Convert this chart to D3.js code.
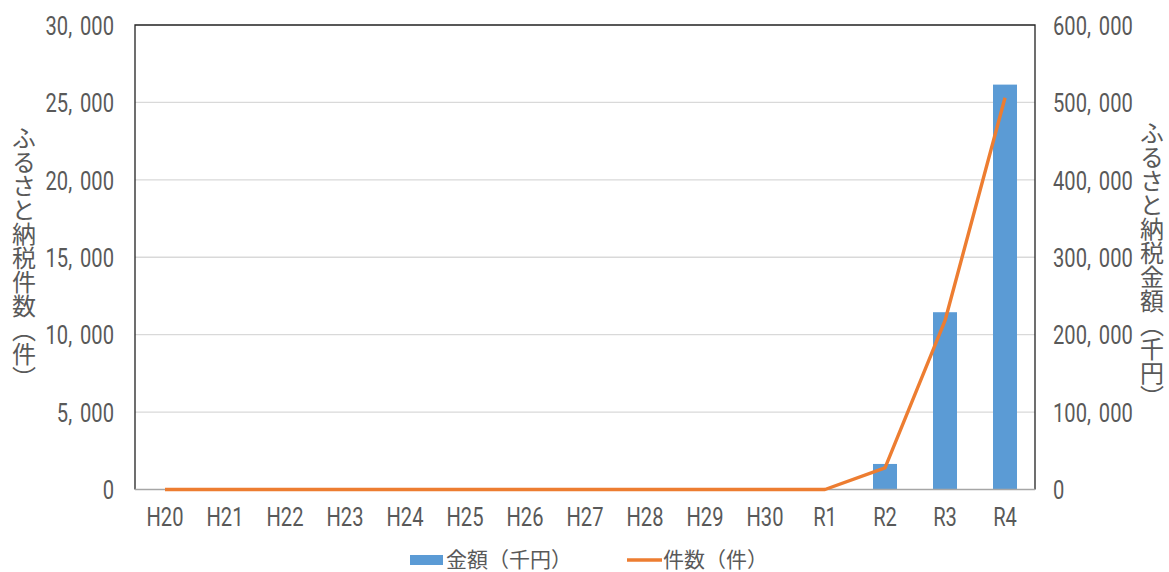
<!DOCTYPE html>
<html><head><meta charset="utf-8">
<script src="https://cdn.jsdelivr.net/npm/d3@7"></script>
<style>
body{margin:0;background:#fff;}
svg{display:block;}
.num{font-family:Roboto,"Liberation Sans",sans-serif;fill:#595959;}
.jp{font-family:"Noto Sans CJK JP",sans-serif;fill:#595959;}
</style></head>
<body>
<svg id="c" width="1169" height="572"></svg>
<script>
const categories = ["H20","H21","H22","H23","H24","H25","H26","H27","H28","H29","H30","R1","R2","R3","R4"];
const amountValues = [0,0,0,0,0,0,0,0,0,0,0,0,33000,229000,523000]; // 金額（千円）
const countValues = [0,0,0,0,0,0,0,0,0,0,0,0,1400,10900,25300];     // 件数（件）
const leftTicks = [0,5000,10000,15000,20000,25000,30000];
const rightTicks = [0,100000,200000,300000,400000,500000,600000];
const leftTitle = "ふるさと納税件数（件）";
const rightTitle = "ふるさと納税金額（千円）";
const legendLabels = ["金額（千円）","件数（件）"];

const svg = d3.select("#c");
const L=135, R=1035, T=25, B=489.5;
const x = d3.scaleBand().domain(categories).range([L,R]).paddingInner(0.6).paddingOuter(0.3);
const xp = d3.scalePoint().domain(categories).range([L,R]).padding(0.5);
const yL = d3.scaleLinear().domain([0,30000]).range([B,T]);
const yR = d3.scaleLinear().domain([0,600000]).range([B,T]);
const fmt = d3.format(",");
const SX = 0.79, FS = 25.5;

// gridlines
svg.append("g").selectAll("line").data(leftTicks.slice(1,-1)).join("line")
  .attr("x1",L).attr("x2",R).attr("y1",d=>yL(d)).attr("y2",d=>yL(d))
  .attr("stroke","#d9d9d9").attr("stroke-width",1.3);

// bars
svg.append("g").selectAll("rect").data(categories.map((c,i)=>({c,v:amountValues[i]})).filter(d=>d.v>0)).join("rect")
  .attr("x",d=>x(d.c)).attr("width",x.bandwidth())
  .attr("y",d=>yR(d.v)).attr("height",d=>B-yR(d.v))
  .attr("fill","#5b9bd5");

// border
svg.append("path").attr("d",`M${L},${B}V${T}H${R}V${B}`).attr("fill","none").attr("stroke","#222").attr("stroke-width",1.3);
svg.append("line").attr("x1",L).attr("x2",R).attr("y1",B).attr("y2",B).attr("stroke","#a6a6a6").attr("stroke-width",1.5);

// line
const line = d3.line().x((d,i)=>xp(categories[i])).y(d=>yL(d));
svg.append("path").datum(countValues).attr("d",line).attr("fill","none")
  .attr("stroke","#ed7d31").attr("stroke-width",3.4).attr("stroke-linejoin","round");

// number label with widened comma gap
function numLabel(sel){
  sel.each(function(d){
    const s = fmt(d), t = d3.select(this);
    s.split(",").forEach((p,i)=>{
      if(i>0){ t.append("tspan").text(","); t.append("tspan").attr("dx",10).text(p); }
      else t.append("tspan").text(p);
    });
  });
}
svg.append("g").selectAll("text").data(leftTicks).join("text").attr("class","num")
  .attr("transform",d=>`translate(114,${yL(d)}) scale(${SX},1)`).attr("dy","0.38em").attr("text-anchor","end")
  .attr("font-size",FS).call(numLabel);
svg.append("g").selectAll("text").data(rightTicks).join("text").attr("class","num")
  .attr("transform",d=>`translate(1053,${yR(d)}) scale(${SX},1)`).attr("dy","0.38em").attr("text-anchor","start")
  .attr("font-size",FS).call(numLabel);
// x labels
svg.append("g").selectAll("text").data(categories).join("text").attr("class","num")
  .attr("transform",d=>`translate(${xp(d)},526) scale(${SX},1)`).attr("text-anchor","middle")
  .attr("font-size",FS).text(d=>d);

// vertical titles
function vtitle(txt,cx,cy,fs){
  svg.append("text").attr("class","jp").attr("x",cx).attr("y",cy)
    .attr("font-size",fs).attr("text-anchor","middle")
    .style("writing-mode","vertical-rl").style("text-orientation","upright")
    .text(txt);
}
vtitle(leftTitle,24,258,24);
vtitle(rightTitle,1152,265,24);

// legend
svg.append("rect").attr("x",410).attr("y",555).attr("width",33).attr("height",10).attr("fill","#5b9bd5");
svg.append("text").attr("class","jp").attr("x",446).attr("y",567).attr("font-size",21).text(legendLabels[0]);
svg.append("line").attr("x1",627).attr("x2",662).attr("y1",560).attr("y2",560).attr("stroke","#ed7d31").attr("stroke-width",3.4);
svg.append("text").attr("class","jp").attr("x",663).attr("y",567).attr("font-size",21).text(legendLabels[1]);
</script>
</body></html>
